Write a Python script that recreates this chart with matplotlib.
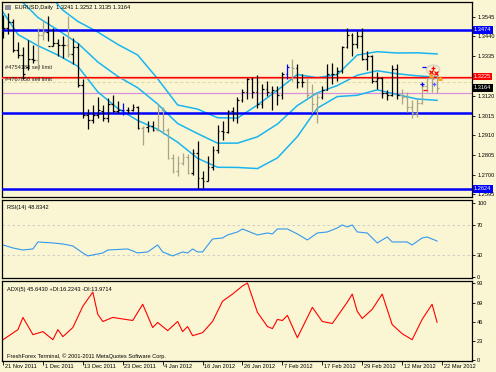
import matplotlib
matplotlib.use("Agg")
import matplotlib.pyplot as plt
from matplotlib.patches import Ellipse
import numpy as np

# ---------------- data ----------------
dates = ["21 Nov 2011", "1 Dec 2011", "13 Dec 2011", "23 Dec 2011", "4 Jan 2012",
         "16 Jan 2012", "26 Jan 2012", "7 Feb 2012", "17 Feb 2012", "29 Feb 2012",
         "12 Mar 2012", "22 Mar 2012"]
date_pos = [0, 8, 16, 24, 32, 40, 48, 56, 64, 72, 80, 88]

opens = [1.3523, 1.3486, 1.3518, 1.3367, 1.3339, 1.3275, 1.3320, 1.3315, 1.3446, 1.3465,
         1.3390, 1.3402, 1.3395, 1.3393, 1.3345, 1.3383, 1.3180, 1.3020, 1.2995, 1.3020,
         1.3040, 1.3005, 1.3077, 1.3043, 1.3047, 1.3045, 1.3048, 1.3060, 1.2950, 1.2955,
         1.2960, 1.2940, 1.3045, 1.2940, 1.2790, 1.2720, 1.2765, 1.2795, 1.2710, 1.2815,
         1.2680, 1.2665, 1.2740, 1.2830, 1.2935, 1.2930, 1.3040, 1.3025, 1.3100, 1.3140,
         1.3210, 1.3145, 1.3080, 1.3160, 1.3145, 1.3155, 1.3125, 1.3240, 1.3275, 1.3270,
         1.3195, 1.3195, 1.3125, 1.3080, 1.3115, 1.3155, 1.3240, 1.3240, 1.3255, 1.3385,
         1.3445, 1.3400, 1.3440, 1.3320, 1.3335, 1.3200, 1.3215, 1.3135, 1.3125, 1.3265,
         1.3125, 1.3115, 1.3060, 1.3030, 1.3085, 1.3175, 1.3215, 1.3241]
highs = [1.3555, 1.3567, 1.3532, 1.3411, 1.3383, 1.3423, 1.3392, 1.3484, 1.3529, 1.3549,
         1.3487, 1.3428, 1.3441, 1.3548, 1.3433, 1.3405, 1.3212, 1.3052, 1.3073, 1.3116,
         1.3073, 1.3110, 1.3127, 1.3092, 1.3083, 1.3061, 1.3078, 1.3070, 1.2960, 1.2985,
         1.2985, 1.3078, 1.3060, 1.2948, 1.2811, 1.2800, 1.2814, 1.2812, 1.2840, 1.2879,
         1.2720, 1.2800, 1.2855, 1.2968, 1.2985, 1.3045, 1.3060, 1.3115, 1.3160, 1.3215,
         1.3225, 1.3235, 1.3185, 1.3200, 1.3175, 1.3175, 1.3250, 1.3290, 1.3320, 1.3290,
         1.3240, 1.3215, 1.3185, 1.3145, 1.3175, 1.3290, 1.3295, 1.3275, 1.3390, 1.3485,
         1.3460, 1.3470, 1.3485, 1.3360, 1.3340, 1.3250, 1.3220, 1.3155, 1.3285, 1.3290,
         1.3160, 1.3145, 1.3100, 1.3105, 1.3185, 1.3215, 1.3255, 1.3252]
lows = [1.3433, 1.3452, 1.3358, 1.3326, 1.3212, 1.3262, 1.3298, 1.3258, 1.3419, 1.3416,
        1.3386, 1.3336, 1.3323, 1.3331, 1.3290, 1.3167, 1.3003, 1.2945, 1.2977, 1.3006,
        1.2988, 1.2981, 1.3035, 1.3032, 1.3022, 1.3030, 1.3040, 1.2942, 1.2858, 1.2930,
        1.2935, 1.2935, 1.2918, 1.2783, 1.2710, 1.2695, 1.2753, 1.2705, 1.2700, 1.2624,
        1.2627, 1.2665, 1.2727, 1.2818, 1.2885, 1.2925, 1.2985, 1.2975, 1.3090, 1.3105,
        1.3112, 1.3055, 1.3055, 1.3120, 1.3045, 1.3075, 1.3105, 1.3210, 1.3200, 1.3165,
        1.3170, 1.3110, 1.3030, 1.2975, 1.3105, 1.3155, 1.3185, 1.3200, 1.3245, 1.3378,
        1.3335, 1.3380, 1.3315, 1.3260, 1.3190, 1.3160, 1.3110, 1.3100, 1.3120, 1.3105,
        1.3080, 1.3035, 1.3005, 1.3010, 1.3080, 1.3145, 1.3145, 1.3135]
closes = [1.3486, 1.3518, 1.3367, 1.3339, 1.3237, 1.3320, 1.3315, 1.3446, 1.3465, 1.3390,
          1.3402, 1.3395, 1.3393, 1.3345, 1.3383, 1.3180, 1.3020, 1.2995, 1.3020, 1.3045,
          1.3005, 1.3077, 1.3043, 1.3047, 1.3045, 1.3048, 1.3060, 1.2950, 1.2955, 1.2960,
          1.2940, 1.3045, 1.2940, 1.2790, 1.2720, 1.2765, 1.2795, 1.2710, 1.2815, 1.2680,
          1.2665, 1.2740, 1.2830, 1.2935, 1.2930, 1.3040, 1.3025, 1.3100, 1.3140, 1.3210,
          1.3145, 1.3080, 1.3160, 1.3145, 1.3155, 1.3125, 1.3240, 1.3275, 1.3270, 1.3195,
          1.3195, 1.3125, 1.3080, 1.3115, 1.3155, 1.3240, 1.3240, 1.3255, 1.3385, 1.3445,
          1.3400, 1.3440, 1.3320, 1.3335, 1.3200, 1.3215, 1.3135, 1.3125, 1.3265, 1.3125,
          1.3115, 1.3060, 1.3030, 1.3085, 1.3175, 1.3215, 1.3210, 1.3164]
# bar colour group: 0 black, 1 tan, 2 blue
bar_group = [0, 0, 0, 0, 0, 0, 0, 1, 1, 0, 0, 0, 0, 1, 0, 0, 0, 0, 0, 0,
             0, 0, 0, 0, 2, 0, 0, 0, 1, 0, 0, 1, 1, 1, 1, 1, 1, 1, 0, 0,
             0, 0, 0, 0, 0, 0, 0, 0, 0, 0, 0, 0, 0, 0, 0, 0, 0, 2, 1, 0,
             0, 1, 1, 1, 0, 0, 0, 0, 0, 0, 0, 0, 0, 0, 0, 0, 0, 0, 0, 0,
             1, 1, 1, 1, 1, 1, 1, 1]

# channel (band) lines
upper_x = [10, 12, 15, 19, 23, 27, 31, 35, 39, 43, 47, 51, 55, 59, 63, 67, 71, 75, 79, 83, 87]
upper_y = [1.3640, 1.3580, 1.3520, 1.3463, 1.3397, 1.3340, 1.3213, 1.3073, 1.3051, 1.3005,
           1.3003, 1.3073, 1.3152, 1.3236, 1.3219, 1.3236, 1.3340, 1.3358, 1.3351, 1.3352,
           1.3346]
mid_x = [3, 7, 11, 15, 19, 23, 27, 31, 35, 39, 43, 47, 51, 55, 59, 63, 67, 71, 75, 79, 83, 87]
mid_y = [1.3648, 1.3541, 1.3474, 1.3403, 1.3303, 1.3226, 1.3165, 1.3078, 1.2974, 1.2920,
         1.2869, 1.2869, 1.2903, 1.2971, 1.3070, 1.3138, 1.3177, 1.3232, 1.3256, 1.3240,
         1.3229, 1.3222]
lower_x = [0, 3, 7, 11, 15, 19, 23, 27, 31, 35, 39, 43, 47, 51, 55, 59, 63, 67, 71, 75,
           79, 83, 87]
lower_y = [1.3570, 1.3450, 1.3390, 1.3340, 1.3280, 1.3143, 1.3055, 1.2990, 1.2943, 1.2874,
           1.2788, 1.2740, 1.2739, 1.2733, 1.2790, 1.2904, 1.3056, 1.3118, 1.3125, 1.3154,
           1.3129, 1.3105, 1.3098]

level_res = 1.3474
level_mid = 1.3032
level_sup = 1.2624
level_red = 1.3225
level_salmon = 1.3216
level_tan = 1.3195
level_pink = 1.3138
price_ticks = [1.3545, 1.3440, 1.3335, 1.3120, 1.3015, 1.2910, 1.2805, 1.2700, 1.2595]

# trade markers near the last bars
marks_x = [84.3, 86.2, 85.8, 86.8, 84.0, 86.3, 85.7, 87.5, 84.5]
marks_y = [1.3275, 1.3272, 1.3250, 1.3242, 1.3185, 1.3185, 1.3235, 1.3215, 1.3155]
marks_s = ["_", "+", "x", "x", "+", "+", "^", "^", "_"]
marks_c = ["#0000FF", "#FF0000", "#FF0000", "#FF0000", "#0000FF", "#6060FF", "#FFA020",
           "#FFA020", "#FF0000"]

rsi_x = [0, 2, 4, 6, 7, 10, 12, 14, 16, 17, 20, 21, 25, 27, 29, 31, 32, 34, 36, 37, 38, 39, 40,
         42, 44, 45, 47, 48, 49, 51, 53, 54, 55, 57, 59, 61, 63, 65, 67, 68, 69, 70, 71, 73,
         75, 77, 78, 81, 82, 84, 85, 87]
rsi_v = [43.5, 39.4, 36.7, 38.1, 47.5, 46.2, 44.8, 42.1, 32.7, 28.7, 32.7, 36.7, 38.1, 32.7,
         34.1, 43.5, 34.1, 28.7, 34.1, 32.7, 38.1, 34.1, 34.1, 51.5, 52.9, 56.9, 61.0, 65.0,
         62.3, 56.9, 59.6, 58.3, 65.0, 65.0, 58.3, 50.2, 59.6, 61.0, 66.4, 70.4, 67.7, 70.4,
         61.0, 59.6, 46.2, 54.2, 47.5, 47.5, 43.5, 52.9, 54.2, 48.8]

adx_x = [0, 3, 4, 6, 8, 10, 11, 12, 14, 16, 18, 19, 20, 22, 26, 28, 30, 31, 33, 35, 36, 37,
         38, 40, 42, 44, 46, 48, 49, 51, 53, 54, 55, 56, 57, 59, 62, 64, 66, 69, 70, 71, 72,
         74, 76, 78, 80, 82, 84, 86, 87]
adx_v = [24.5, 36.7, 51.4, 30.6, 34.3, 24.5, 36.7, 28.2, 39.2, 64.9, 82.0, 55.1, 46.5, 51.4,
         47.7, 67.3, 39.2, 45.3, 35.5, 46.5, 34.3, 40.4, 29.4, 33.0, 46.5, 71.0, 79.6, 89.4,
         93.0, 57.5, 40.4, 37.9, 49.0, 47.7, 53.9, 26.9, 63.6, 46.5, 44.1, 69.8, 79.6, 58.8,
         50.2, 61.2, 79.6, 42.8, 31.8, 24.5, 49.0, 67.3, 45.6]

# ---------------- style ----------------
BG = "#FAF6D3"
W, H = 496, 372
FONT = "Liberation Sans"
FS = 4.1

fig = plt.figure(figsize=(W / 100, H / 100), dpi=100, facecolor=BG)


def make_ax(top, bottom, left=2, right=472):
    ax = fig.add_axes([left / W, 1 - bottom / H, (right - left) / W, (bottom - top) / H])
    ax.set_facecolor(BG)
    for s in ax.spines.values():
        s.set_color("black")
        s.set_linewidth(0.9)
    ax.set_xlim(-0.2, 94)
    ax.tick_params(axis="x", bottom=False, labelbottom=False)
    ax.yaxis.tick_right()
    ax.tick_params(axis="y", direction="out", length=2.2, width=0.6, pad=1.5,
                   labelsize=FS, colors="black")
    return ax


ax = make_ax(2, 197)
ax_rsi = make_ax(200, 278)
ax_adx = make_ax(281, 361)

# ---------------- main chart ----------------
ax.set_ylim(1.2581, 1.36237)
ax.set_yticks(price_ticks)
ax.set_yticklabels([f"{v:.4f}" for v in price_ticks], fontfamily=FONT, fontsize=FS)

ax.axhline(level_res, color="#0000FF", lw=1.8, zorder=3)
ax.axhline(level_mid, color="#0000FF", lw=1.8, zorder=3)
ax.axhline(level_sup, color="#0000FF", lw=1.8, zorder=3)
ax.axhline(level_tan, color="#E4D8A8", lw=0.8, ls=(0, (3, 2)), zorder=2)
ax.axhline(level_pink, color="#D890E0", lw=0.9, zorder=2)
ax.axhline(level_salmon, color="#F08070", lw=0.8, zorder=3)

band_col = "#19B5F0"
ax.plot(upper_x, upper_y, color=band_col, lw=1.1, zorder=2.5)
ax.plot(mid_x, mid_y, color=band_col, lw=1.1, zorder=2.5)
ax.plot(lower_x, lower_y, color=band_col, lw=1.1, zorder=2.5)
ax.axhline(level_red, color="#FF0000", lw=0.9, zorder=3)

gcol = {0: "black", 1: "#A8A488", 2: "#0000FF"}
xs = np.arange(len(closes))
cols = [gcol[g] for g in bar_group]
ax.vlines(xs, lows, highs, colors=cols, lw=0.9, zorder=5)
ax.hlines(opens, xs - 0.35, xs, colors=cols, lw=0.9, zorder=5)
ax.hlines(closes, xs, xs + 0.35, colors=cols, lw=0.9, zorder=5)

# trade markers
ax.add_patch(Ellipse((86.2, 1.3262), width=2.6, height=0.0048, facecolor="none",
                     edgecolor="#DCD4C0", lw=1.2, zorder=5.5))
for mx, my, ms, mc in zip(marks_x, marks_y, marks_s, marks_c):
    ax.plot(mx, my, marker=ms, color=mc, markersize=2.6, mew=0.9, zorder=6)

ax.text(0.028, 0.985, "EURUSD,Daily  1.3241 1.3252 1.3135 1.3164", transform=ax.transAxes,
        fontsize=FS, fontfamily=FONT, va="top", ha="left", color="black")
ax.add_patch(plt.Rectangle((0.006, 0.958), 0.014, 0.028, transform=ax.transAxes,
                           facecolor="#9090A0", edgecolor="none"))
ax.text(0.006, 0.665, "#4754183 sell limit", transform=ax.transAxes, fontsize=FS,
        fontfamily=FONT, va="center", ha="left", color="#202020")
ax.text(0.006, 0.605, "#4767858 sell limit", transform=ax.transAxes, fontsize=FS,
        fontfamily=FONT, va="center", ha="left", color="#202020")

# price tags on right axis
for val, fc in [(level_res, "#0000FF"), (level_red, "#FF0000"), (closes[-1], "black"),
                (level_sup, "#0000FF")]:
    ax.annotate(f"{val:.4f}", xy=(1.0, val), xycoords=("axes fraction", "data"),
                xytext=(1.5, 0), textcoords="offset points", fontsize=FS, fontfamily=FONT,
                color="white", va="center", ha="left", annotation_clip=False,
                bbox=dict(boxstyle="square,pad=0.2", fc=fc, ec="none"))

# ---------------- RSI ----------------
ax_rsi.set_ylim(-1, 104)
ax_rsi.set_yticks([100, 70, 30, 0])
ax_rsi.set_yticklabels(["100", "70", "30", "0"], fontfamily=FONT, fontsize=FS)
ax_rsi.axhline(70, color="#C8C8C8", lw=0.6, ls=(0, (3, 3)))
ax_rsi.axhline(30, color="#C8C8C8", lw=0.6, ls=(0, (3, 3)))
ax_rsi.plot(rsi_x, rsi_v, color="#3399EE", lw=0.8)
ax_rsi.text(0.01, 0.93, "RSI(14) 48.8342", transform=ax_rsi.transAxes, fontsize=FS,
            fontfamily=FONT, va="top", ha="left")

# ---------------- ADX ----------------
ax_adx.set_ylim(-1.2, 95.4)
ax_adx.set_yticks([93, 69, 46, 23, 0])
ax_adx.set_yticklabels(["93", "69", "46", "23", "0"], fontfamily=FONT, fontsize=FS)
ax_adx.plot(adx_x, adx_v, color="#FF0000", lw=0.8)
ax_adx.text(0.01, 0.93, "ADX(5) 45.6430 +DI:16.2243 -DI:13.9714", transform=ax_adx.transAxes,
            fontsize=FS, fontfamily=FONT, va="top", ha="left")
ax_adx.text(0.01, 0.03, "FreshForex Terminal, \u00a9 2001-2011 MetaQuotes Software Corp.",
            transform=ax_adx.transAxes, fontsize=FS, fontfamily=FONT, va="bottom", ha="left")

# date axis
ax_adx.set_xticks(date_pos)
ax_adx.tick_params(axis="x", bottom=True, length=3, width=0.6, direction="out",
                   labelbottom=False)
for p, lab in zip(date_pos, dates):
    ax_adx.annotate(lab, xy=(p, 0), xycoords=("data", "axes fraction"), xytext=(1.2, -2),
                    textcoords="offset points", fontsize=FS, fontfamily=FONT,
                    va="top", ha="left", annotation_clip=False)

fig.savefig("out.png", dpi=100, facecolor=BG)
